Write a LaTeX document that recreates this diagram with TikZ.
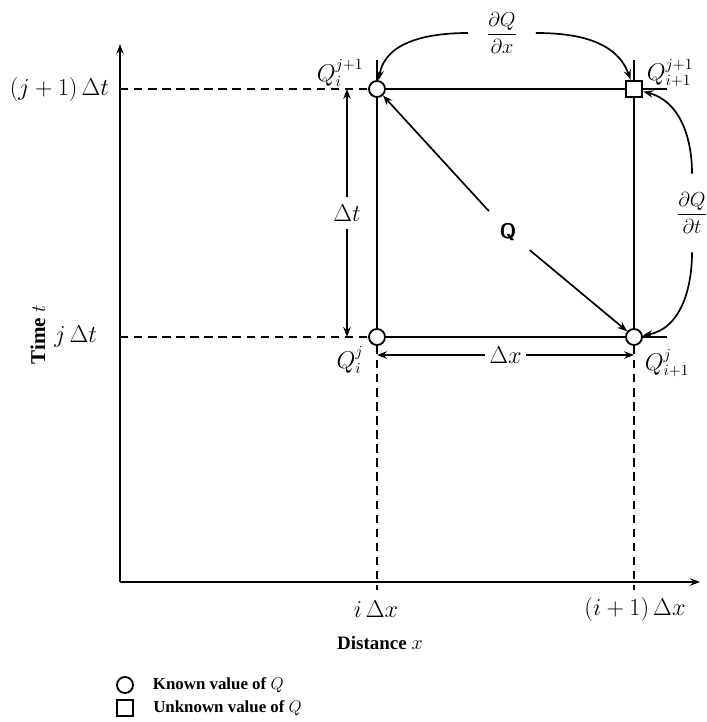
\documentclass[tikz,border=0pt]{standalone}
\usepackage{amsmath,amssymb}
\usepackage{fontspec}
\setmainfont{Liberation Serif}
\usetikzlibrary{arrows.meta,positioning}

\begin{document}
\begin{tikzpicture}[x=0.25cm,y=0.25cm,font=\fontsize{16}{19}\selectfont,
      known/.style={circle,draw,line width=1.3pt,fill=white,
                    minimum size=0.4cm,inner sep=0pt},
      unknown/.style={rectangle,draw,line width=1.3pt,fill=white,
                      minimum size=0.42cm,inner sep=0pt},
      grid/.style={line width=1.3pt},
      guide/.style={line width=1.3pt,dash pattern=on 6pt off 4pt},
      flow/.style={-{Stealth[length=7pt]},line width=1.2pt},
      span/.style={{Stealth[length=7pt]}-{Stealth[length=7pt]},line width=1.2pt},
      caption/.style={font=\fontsize{12}{14}\selectfont\bfseries},
      rate/.style={font=\fontsize{14}{17}\selectfont}]
    \useasboundingbox (0,0) rectangle (70.7,72.2);
    % Axes: time upwards, distance to the right.
    \coordinate (origin) at (12.0,14.0);
    \coordinate (tend) at (12.0,67.8);
    \coordinate (xend) at (70.0,14.0);
    \draw[flow,line width=1.4pt] (origin) -- (tend);
    \draw[flow,line width=1.4pt] (origin) -- (xend);
    \node[caption,font=\fontsize{15}{18}\selectfont\bfseries,rotate=90]
      (timelab) at (3.8,38.7) {Time $t$};
    \node[caption,font=\fontsize{13.5}{16}\selectfont\bfseries]
      (distlab) at (38.0,7.9) {Distance $x$};

    % The four grid values of one cell.
    \node[known] (Qij1) at (37.7,63.3) {};
    \node[unknown] (Qi1j1) at (63.4,63.3) {};
    \node[known] (Qij) at (37.7,38.5) {};
    \node[known] (Qi1j) at (63.4,38.5) {};
    \node (labQij1) at (34.0,64.9) {$Q_i^{j+1}$};
    \node (labQi1j1) at (67.0,64.9) {$Q_{i+1}^{j+1}$};
    \node (labQij) at (35.0,36.2) {$Q_i^{j}$};
    \node (labQi1j) at (66.7,35.9) {$Q_{i+1}^{j}$};

    % Solid cell edges, running a little past the corners.
    \coordinate (topEnd) at (66.7,63.3);
    \coordinate (botEnd) at (66.7,38.5);
    \coordinate (leftTop) at (37.7,66.2);
    \coordinate (rightTop) at (63.4,66.2);
    \draw[grid] (Qij1) -- (Qi1j1) -- (topEnd);
    \draw[grid] (Qij) -- (Qi1j) -- (botEnd);
    \draw[grid] (leftTop) -- (Qij1) -- (Qij);
    \draw[grid] (rightTop) -- (Qi1j1) -- (Qi1j);

    % Dashed guides back to the axes and their tick labels.
    \coordinate (tTop) at (12.0,63.3);
    \coordinate (tBot) at (12.0,38.5);
    \coordinate (leftFoot) at (37.7,13.2);
    \coordinate (rightFoot) at (63.4,13.2);
    \draw[guide] (tTop) -- (Qij1);
    \draw[guide] (tBot) -- (Qij);
    \draw[guide] (Qij) -- (leftFoot);
    \draw[guide] (Qi1j) -- (rightFoot);
    \node[left=0.15cm of tTop] (ttop) {$(j+1)\,\Delta t$};
    \node[left=0.45cm of tBot] (tbot) {$j\,\Delta t$};
    \node (xleft) at (37.6,11.3) {$i\,\Delta x$};
    \node (xright) at (63.5,11.3) {$(i+1)\,\Delta x$};

    % Step sizes of the cell.
    \coordinate (dtTop) at (34.7,63.3);
    \coordinate (dtBot) at (34.7,38.5);
    \draw[span] (dtTop) -- node[fill=white,minimum height=0.8cm,inner xsep=1pt]
      (dtlab) {$\Delta t$} (dtBot);
    \coordinate (dxLeft) at (37.7,36.7);
    \coordinate (dxRight) at (63.4,36.7);
    \draw[span] (dxLeft) -- node[fill=white,minimum width=0.95cm,inner ysep=1pt]
      (dxlab) {$\Delta x$} (dxRight);

    % Q along the diagonal, and the two derivatives.
    \node[circle,minimum size=1.4cm,font=\fontsize{15}{18}\selectfont\sffamily\bfseries]
      (Qmid) at (50.8,49.0) {Q};
    \draw[flow] (Qmid) -- (Qij1);
    \draw[flow] (Qmid) -- (Qi1j);
    \node[rate,inner xsep=13pt] (dQdx) at (50.2,68.9)
      {$\dfrac{\partial Q}{\partial x}$};
    \draw[flow] (dQdx.west) to[out=180,in=80] (Qij1);
    \draw[flow] (dQdx.east) to[out=0,in=110] (Qi1j1);
    \node[rate,inner xsep=1pt,inner ysep=13pt] (dQdt) at (69.2,50.9)
      {$\dfrac{\partial Q}{\partial t}$};
    \draw[flow] (dQdt.north) to[out=90,in=-15] (Qi1j1);
    \draw[flow] (dQdt.south) to[out=-90,in=10] (Qi1j);

    % Legend.
    \node[known] (legKnown) at (12.5,3.7) {};
    \node[caption,right=0.35cm of legKnown] (txtKnown) {Known value of $Q$};
    \node[unknown] (legUnknown) at (12.5,1.4) {};
    \node[caption,right=0.35cm of legUnknown] (txtUnknown) {Unknown value of $Q$};
  \end{tikzpicture}
\end{document}
